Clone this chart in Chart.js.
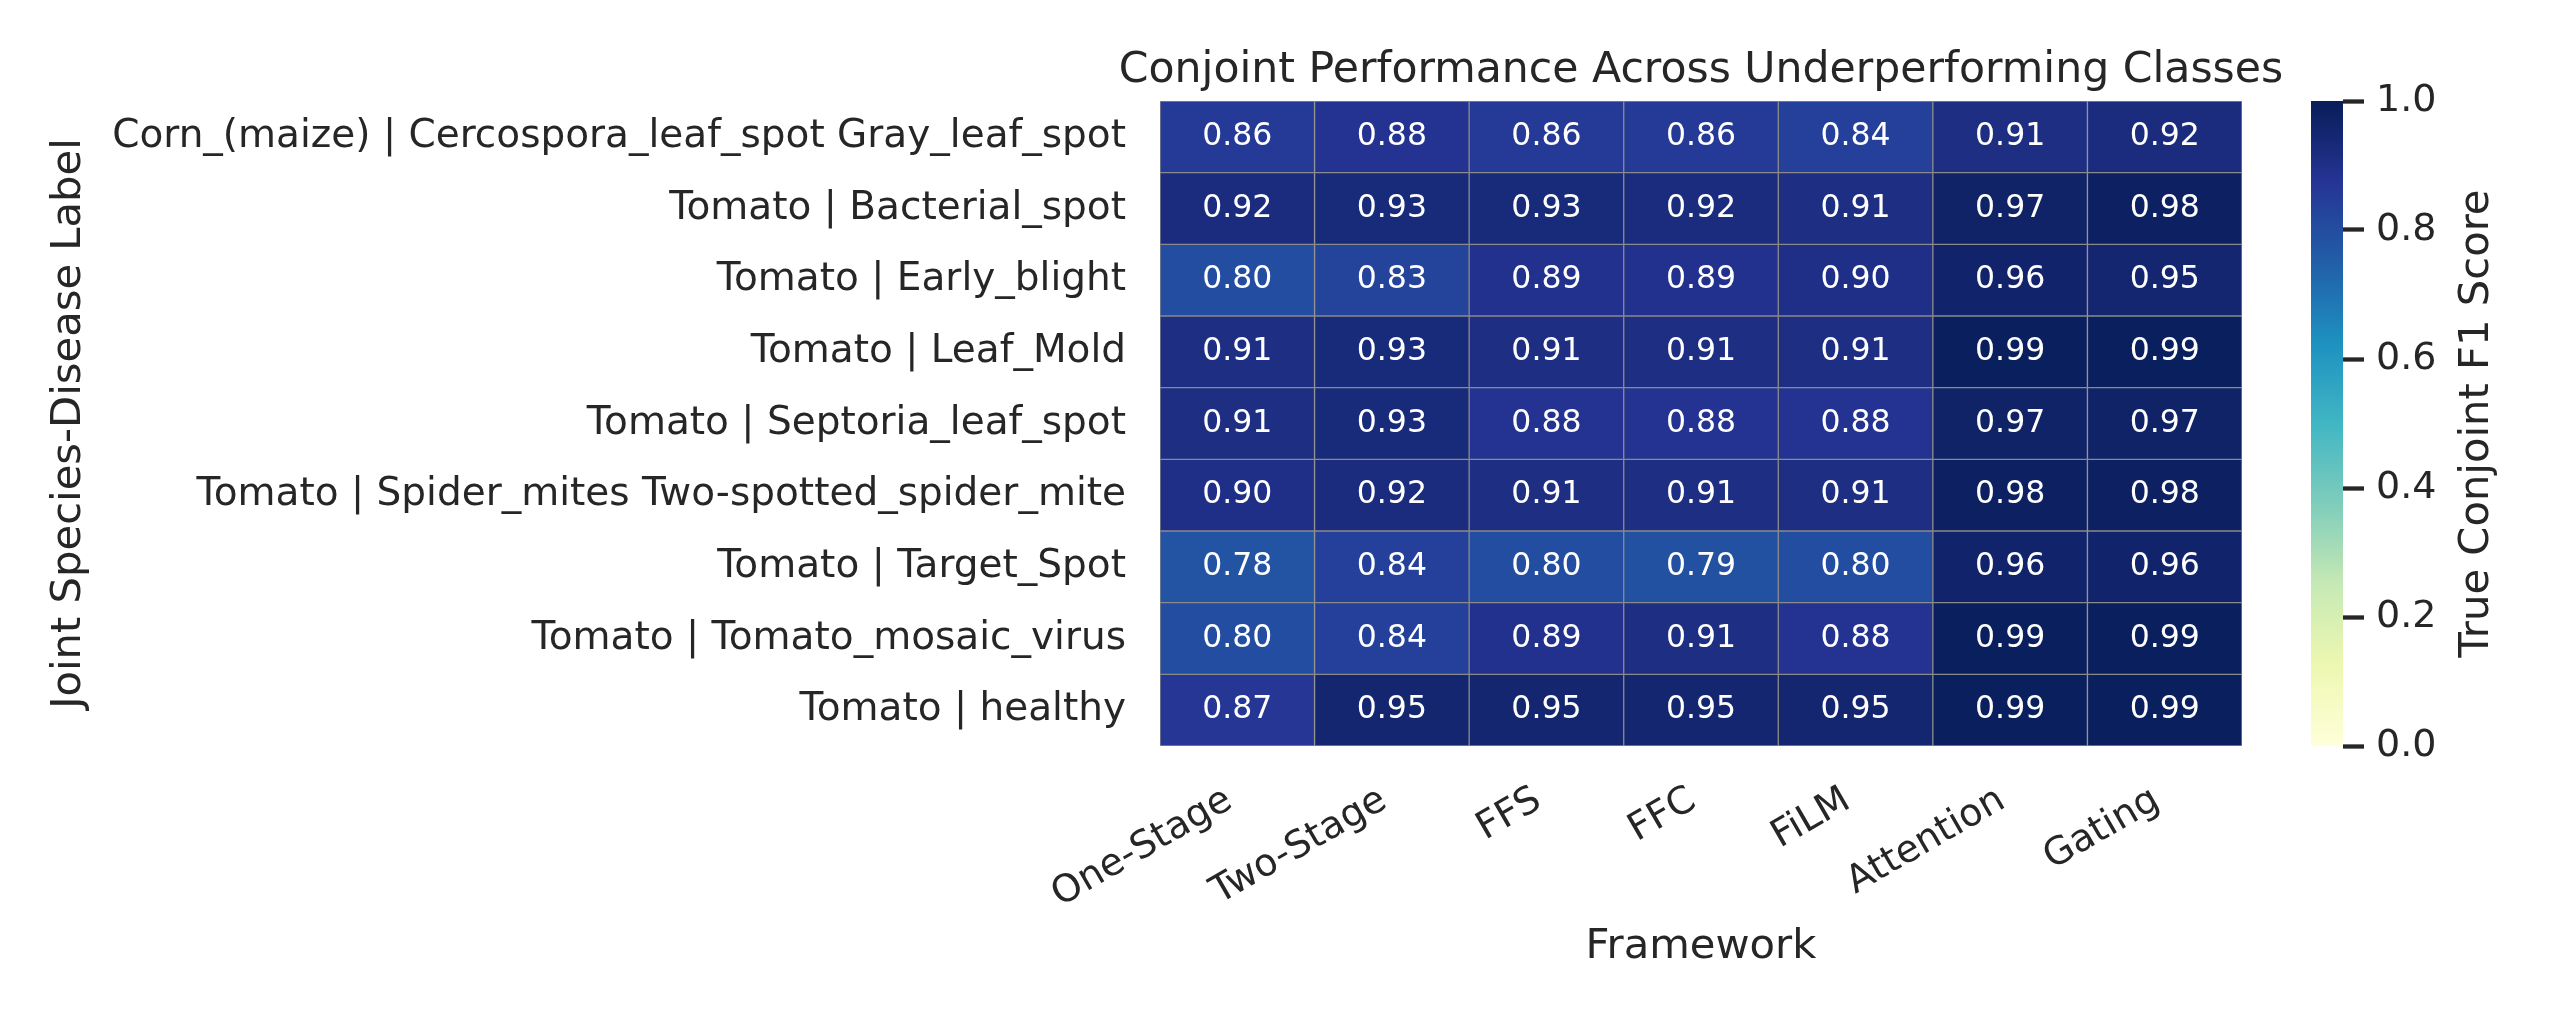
<!DOCTYPE html>
<html>
<head>
<meta charset="utf-8">
<script src="https://cdn.jsdelivr.net/npm/chart.js@4.4.1/dist/chart.umd.min.js"></script>
<style>
  html, body { margin: 0; padding: 0; background: #fff; }
  #wrap { position: relative; width: 2560px; height: 1024px; }
  #heat { position: absolute; left: 0; top: 0; }
  #cbar { position: absolute; left: 2280px; top: 0; }
</style>
</head>
<body>
<div id="wrap">
  <canvas id="heat" width="2560" height="1024"></canvas>
  <canvas id="cbar" width="280" height="1024"></canvas>
</div>
<script>
// columns and rows of the heatmap
const frameworks = ["One-Stage", "Two-Stage", "FFS", "FFC", "FiLM", "Attention", "Gating"];
const rowLabels = [
  "Corn_(maize) | Cercospora_leaf_spot Gray_leaf_spot",
  "Tomato | Bacterial_spot",
  "Tomato | Early_blight",
  "Tomato | Leaf_Mold",
  "Tomato | Septoria_leaf_spot",
  "Tomato | Spider_mites Two-spotted_spider_mite",
  "Tomato | Target_Spot",
  "Tomato | Tomato_mosaic_virus",
  "Tomato | healthy"
];

// F1 score per row, one value per framework
const cornGrayLeafSpot = [0.86, 0.88, 0.86, 0.86, 0.84, 0.91, 0.92];
const tomatoBacterialSpot = [0.92, 0.93, 0.93, 0.92, 0.91, 0.97, 0.98];
const tomatoEarlyBlight = [0.80, 0.83, 0.89, 0.89, 0.90, 0.96, 0.95];
const tomatoLeafMold = [0.91, 0.93, 0.91, 0.91, 0.91, 0.99, 0.99];
const tomatoSeptoria = [0.91, 0.93, 0.88, 0.88, 0.88, 0.97, 0.97];
const tomatoSpiderMites = [0.90, 0.92, 0.91, 0.91, 0.91, 0.98, 0.98];
const tomatoTargetSpot = [0.78, 0.84, 0.80, 0.79, 0.80, 0.96, 0.96];
const tomatoMosaicVirus = [0.80, 0.84, 0.89, 0.91, 0.88, 0.99, 0.99];
const tomatoHealthy = [0.87, 0.95, 0.95, 0.95, 0.95, 0.99, 0.99];

const rows = [cornGrayLeafSpot, tomatoBacterialSpot, tomatoEarlyBlight, tomatoLeafMold,
  tomatoSeptoria, tomatoSpiderMites, tomatoTargetSpot, tomatoMosaicVirus, tomatoHealthy];

const cbarTicks = [0, 0.2, 0.4, 0.6, 0.8, 1.0];

// YlGnBu colormap
const ylgnbu = ["#ffffd9", "#edf8b1", "#c7e9b4", "#7fcdbb", "#41b6c4", "#1d91c0", "#225ea8", "#253494", "#081d58"];

const TEXT = "#262626";
const FONT = "'DejaVu Sans', sans-serif";
Chart.defaults.font.family = FONT;
Chart.defaults.color = TEXT;

function hexToRgb(h) {
  return [parseInt(h.slice(1, 3), 16), parseInt(h.slice(3, 5), 16), parseInt(h.slice(5, 7), 16)];
}

function colorFor(v) {
  const t = Math.min(Math.max(v, 0), 1) * (ylgnbu.length - 1);
  const i = Math.min(Math.floor(t), ylgnbu.length - 2);
  const f = t - i;
  const a = hexToRgb(ylgnbu[i]), b = hexToRgb(ylgnbu[i + 1]);
  const c = a.map((x, k) => Math.round(x + (b[k] - x) * f));
  return `rgb(${c[0]}, ${c[1]}, ${c[2]})`;
}

// write the score into each cell
const cellText = {
  id: "cellText",
  afterDatasetsDraw(chart) {
    const ctx = chart.ctx;
    ctx.save();
    ctx.font = `31.5px ${FONT}`;
    ctx.fillStyle = "#ffffff";
    ctx.textAlign = "center";
    ctx.textBaseline = "middle";
    chart.data.datasets.forEach((ds, r) => {
      chart.getDatasetMeta(r).data.forEach((bar, c) => {
        ctx.fillText(ds.scores[c].toFixed(2), bar.x, (bar.y + bar.base) / 2);
      });
    });
    ctx.restore();
  }
};

const heatTitle = {
  id: "heatTitle",
  afterDraw(chart) {
    const ctx = chart.ctx;
    const a = chart.chartArea;
    ctx.save();
    ctx.font = `42.6px ${FONT}`;
    ctx.fillStyle = TEXT;
    ctx.textAlign = "center";
    ctx.textBaseline = "alphabetic";
    ctx.fillText("Conjoint Performance Across Underperforming Classes", (a.left + a.right) / 2, 82);
    ctx.restore();
  }
};

const datasets = rows.map((vals, r) => ({
  label: rowLabels[r],
  data: vals.map(() => [r, r + 1]),
  scores: vals,
  backgroundColor: vals.map(colorFor),
  borderColor: "#8a8a8a",
  borderWidth: 1,
  borderSkipped: false,
  barPercentage: 1,
  categoryPercentage: 1,
  grouped: false
}));

new Chart(document.getElementById("heat"), {
  type: "bar",
  data: { labels: frameworks, datasets: datasets },
  options: {
    responsive: false,
    animation: false,
    layout: { padding: { left: 40, right: 318, top: 101, bottom: 48 } },
    scales: {
      x: {
        type: "category",
        offset: true,
        grid: { display: false },
        border: { display: false },
        ticks: { font: { size: 38 }, color: TEXT, minRotation: 30, maxRotation: 30, autoSkip: false, padding: 24, labelOffset: -8 },
        title: { display: true, text: "Framework", font: { size: 41.7 }, color: TEXT, padding: { top: 4, bottom: 4 } },
        afterFit(s) { s.height = 230; }
      },
      y: {
        type: "linear",
        min: 0,
        max: rowLabels.length,
        reverse: true,
        grid: { display: false },
        border: { display: false },
        afterBuildTicks(s) { s.ticks = rowLabels.map((_, i) => ({ value: i + 0.5 })); },
        ticks: { callback: (v, i) => rowLabels[i], font: { size: 39 }, color: TEXT, padding: 26, autoSkip: false },
        title: { display: true, text: "Joint Species-Disease Label", font: { size: 41.7 }, color: TEXT, padding: { top: 4, bottom: 4 } },
        afterFit(s) { s.width = 1120; }
      }
    },
    plugins: { legend: { display: false }, tooltip: { enabled: false } }
  },
  plugins: [cellText, heatTitle]
});

// colorbar
const cbarLabel = {
  id: "cbarLabel",
  afterDraw(chart) {
    const ctx = chart.ctx;
    const a = chart.chartArea;
    const s = chart.scales.y;
    ctx.save();
    ctx.translate(s.right - 21, (a.top + a.bottom) / 2);
    ctx.rotate(-Math.PI / 2);
    ctx.font = `41.7px ${FONT}`;
    ctx.fillStyle = TEXT;
    ctx.textAlign = "center";
    ctx.textBaseline = "middle";
    ctx.fillText("True Conjoint F1 Score", 0, 0);
    ctx.restore();
  }
};

function gradientFill(c) {
  const chart = c.chart;
  if (!chart.chartArea) return ylgnbu[4];
  const y = chart.scales.y;
  const g = chart.ctx.createLinearGradient(0, y.getPixelForValue(0), 0, y.getPixelForValue(1));
  ylgnbu.forEach((col, i) => g.addColorStop(i / (ylgnbu.length - 1), col));
  return g;
}

new Chart(document.getElementById("cbar"), {
  type: "bar",
  data: { labels: [""], datasets: [{ data: [[0, 1]], backgroundColor: gradientFill, borderWidth: 0, barPercentage: 1, categoryPercentage: 1 }] },
  options: {
    responsive: false,
    animation: false,
    layout: { padding: { left: 31, right: 62, top: 101, bottom: 278 } },
    scales: {
      x: { display: false },
      y: {
        position: "right",
        min: 0,
        max: 1,
        grid: { display: true, drawOnChartArea: false, drawTicks: true, tickLength: 21, tickWidth: 4.3, tickColor: TEXT },
        border: { display: false },
        afterBuildTicks(s) { s.ticks = cbarTicks.map(v => ({ value: v })); },
        ticks: { callback: (v, i) => cbarTicks[i].toFixed(1), font: { size: 38 }, color: TEXT, padding: 12 },
        afterFit(s) { s.width = 155; }
      }
    },
    plugins: { legend: { display: false }, tooltip: { enabled: false } }
  },
  plugins: [cbarLabel]
});
</script>
</body>
</html>
